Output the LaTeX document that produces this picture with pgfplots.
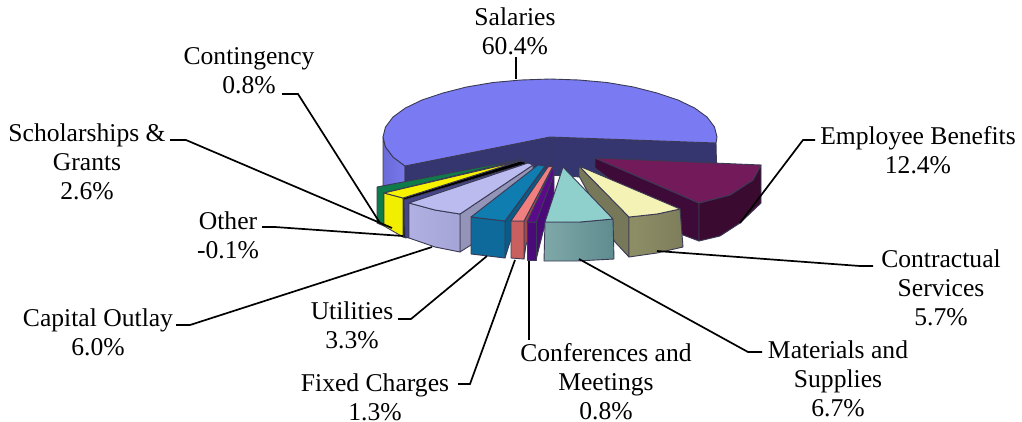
\documentclass[border=0pt]{standalone}
\usepackage{fontspec}
\setmainfont{Liberation Serif}
\usepackage{pgfplots}
\pgfplotsset{compat=1.18}

\definecolor{edge}{HTML}{3A3A55}
\definecolor{salA}{HTML}{6A6AD8}
\definecolor{salB}{HTML}{7878EC}
\definecolor{salW}{HTML}{35356F}
\definecolor{salT}{HTML}{7A7AF2}
\definecolor{empS}{HTML}{3E0A38}
\definecolor{empF}{HTML}{3A0A30}
\definecolor{empT}{HTML}{731A5A}
\definecolor{conS}{HTML}{77775A}
\definecolor{conA}{HTML}{8E8E66}
\definecolor{conB}{HTML}{7E7E5C}
\definecolor{conT}{HTML}{F5F2B5}
\definecolor{ctgF}{HTML}{0F7A4A}
\definecolor{schF}{HTML}{F2EE00}
\definecolor{schT}{HTML}{F7F200}
\definecolor{capD}{HTML}{45458A}
\definecolor{capS}{HTML}{9494B8}
\definecolor{capA}{HTML}{B0B0E2}
\definecolor{capB}{HTML}{A4A4D6}
\definecolor{capT}{HTML}{BBBBF0}
\definecolor{utlS}{HTML}{0A5C88}
\definecolor{utlF}{HTML}{0D6A9A}
\definecolor{utlT}{HTML}{0F7DB0}
\definecolor{fixS}{HTML}{A04A4A}
\definecolor{fixF}{HTML}{C96060}
\definecolor{fixT}{HTML}{F08080}
\definecolor{cnfF}{HTML}{4A0A78}
\definecolor{cnfT}{HTML}{5C0A8C}
\definecolor{matA}{HTML}{7FA8A8}
\definecolor{matB}{HTML}{5F8C90}
\definecolor{matT}{HTML}{8FD0CC}
\tikzset{
  face/.style={draw=edge,line width=0.9pt,line join=round},
  lead/.style={black,line width=1.7pt,line join=miter},
  lab/.style={align=center,font=\fontsize{25.6}{29}\selectfont,inner sep=0pt,anchor=center}
}

\begin{document}
\begin{tikzpicture}
\useasboundingbox (0,0) rectangle (1022pt,421pt);
\begin{axis}[
  scale only axis,
  at={(0,0)},anchor=south west,
  width=1022pt,height=421pt,
  xmin=0,xmax=1022,ymin=0,ymax=421,
  y dir=reverse,
  hide axis,
  clip=false
]
% Salaries
\addplot[face,left color=salA,right color=salB] coordinates {(383,137)(385.5,147)(393,157)(405,166)(405,190)(383,188)} --cycle;
\addplot[face,fill=salW] coordinates {(405,166)(550,137)(550,175)(405,205)} --cycle;
\addplot[face,fill=salW] coordinates {(550,137)(716,143)(717,186)(550,175)} --cycle;
\addplot[face,fill=salT] coordinates {(550,137)(716,143)(717,137)(714.5,127)(707,117)(694.6,108)(678,100)(657,93)(633.5,87)(607,82.5)(579,80)(550,79)(521,80)(493,82.5)(466.5,87)(443,93)(422,100)(405.4,108)(393,117)(385.5,127)(383,137)(385.5,147)(393,157)(405,166)} --cycle;
% Employee Benefits
\addplot[face,fill=empS] coordinates {(595,158)(699,203)(699,241)(683,235)(595,168)} --cycle;
\addplot[face,fill=empF] coordinates {(699,203)(730,195)(753,180)(761,165)(761,203)(740,223)(720,236)(699,241)} --cycle;
\addplot[face,fill=empT] coordinates {(595,158)(761,165)(753,180)(730,195)(699,203)} --cycle;
% Contractual Services
\addplot[face,fill=conS] coordinates {(579,166)(629,217)(629,257)(615,242)(579,176)} --cycle;
\addplot[face,left color=conA,right color=conB] coordinates {(629,217)(657,214)(680,209)(683,247)(657,253)(629,257)} --cycle;
\addplot[face,fill=conT] coordinates {(579,166)(629,217)(657,214)(680,209)} --cycle;
% Contingency
\addplot[face,fill=ctgF] coordinates {(377,187)(523,159)(384,193)(384,226)(377,223)} --cycle;
% Scholarships
\addplot[face,fill=black] coordinates {(403,198)(520,161)(528,163)(406,238)(403,237)} --cycle;
\addplot[face,fill=schF] coordinates {(384,193)(403,198)(403,237)(384,226)} --cycle;
\addplot[face,fill=schT] coordinates {(384,193)(520,161)(403,198)} --cycle;
% Capital Outlay
\addplot[face,fill=capD] coordinates {(404,200)(528,163)(533,165)(409,203)(409,238)(405,237)} --cycle;
\addplot[face,fill=capS] coordinates {(460,214)(533,165)(533,170)(471,245)(460,252)} --cycle;
\addplot[face,left color=capA,right color=capB] coordinates {(409,203)(435,210)(460,214)(460,252)(435,247)(409,238)} --cycle;
\addplot[face,fill=capT] coordinates {(409,203)(528,163)(533,165)(460,214)(435,210)} --cycle;
% Utilities
\addplot[face,fill=utlS] coordinates {(505,221)(545,167)(545,175)(510,242)(505,258)} --cycle;
\addplot[face,fill=utlF] coordinates {(471,217)(505,221)(505,258)(471,254)} --cycle;
\addplot[face,fill=utlT] coordinates {(471,217)(538,165)(545,166)(505,221)} --cycle;
% Fixed Charges
\addplot[face,fill=fixS] coordinates {(524,221)(553,166)(553,176)(526,245)(524,259)} --cycle;
\addplot[face,fill=fixF] coordinates {(511,221)(524,221)(524,259)(511,258)} --cycle;
\addplot[face,fill=fixT] coordinates {(511,221)(548,167)(553,166)(524,221)} --cycle;
% Conferences
\addplot[face,fill=cnfF] coordinates {(536,222)(554,174)(554,195)(543,232)(536,260)} --cycle;
\addplot[face,fill=cnfF] coordinates {(527,222)(536,222)(536,260)(527,260)} --cycle;
\addplot[face,fill=cnfT] coordinates {(527,222)(553,167)(554,174)(536,222)} --cycle;
% Materials
\addplot[face,left color=matA,right color=matB] coordinates {(545,222)(580,222)(613,219)(614,259)(577,261)(544,261)} --cycle;
\addplot[face,fill=matT] coordinates {(563,167)(613,219)(580,222)(545,222)} --cycle;
% leaders
\addplot[lead] coordinates {(516,57)(516,79)};
\addplot[lead] coordinates {(815,140)(803,140)(740,223)};
\addplot[lead] coordinates {(873,266)(860,266)(657,251)};
\addplot[lead] coordinates {(579,259)(748,352)(762,352)};
\addplot[lead] coordinates {(529,261)(529,340)};
\addplot[lead] coordinates {(458,384)(470,384)(515,260)};
\addplot[lead] coordinates {(398,319)(411,319)(487,256)};
\addplot[lead] coordinates {(176,325)(190,325)(432,247)};
\addplot[lead] coordinates {(262,227)(275,227)(403,236)};
\addplot[lead] coordinates {(170,140)(186,140)(392,228)};
\addplot[lead] coordinates {(282,94)(298,94)(380,223)};
% labels
\node[lab] at (axis cs:515,31) {Salaries\\60.4\%};
\node[lab] at (axis cs:918,150) {Employee Benefits\\12.4\%};
\node[lab] at (axis cs:941,288) {Contractual\\Services\\5.7\%};
\node[lab] at (axis cs:838,379) {Materials and\\Supplies\\6.7\%};
\node[lab] at (axis cs:606,382) {Conferences and\\Meetings\\0.8\%};
\node[lab] at (axis cs:375,397) {Fixed Charges\\1.3\%};
\node[lab] at (axis cs:352,325) {Utilities\\3.3\%};
\node[lab] at (axis cs:98,332) {Capital Outlay\\6.0\%};
\node[lab] at (axis cs:228,235) {Other\\-0.1\%};
\node[lab] at (axis cs:87,162) {Scholarships \&\\Grants\\2.6\%};
\node[lab] at (axis cs:249,71) {Contingency\\0.8\%};
\end{axis}
\end{tikzpicture}
\end{document}
